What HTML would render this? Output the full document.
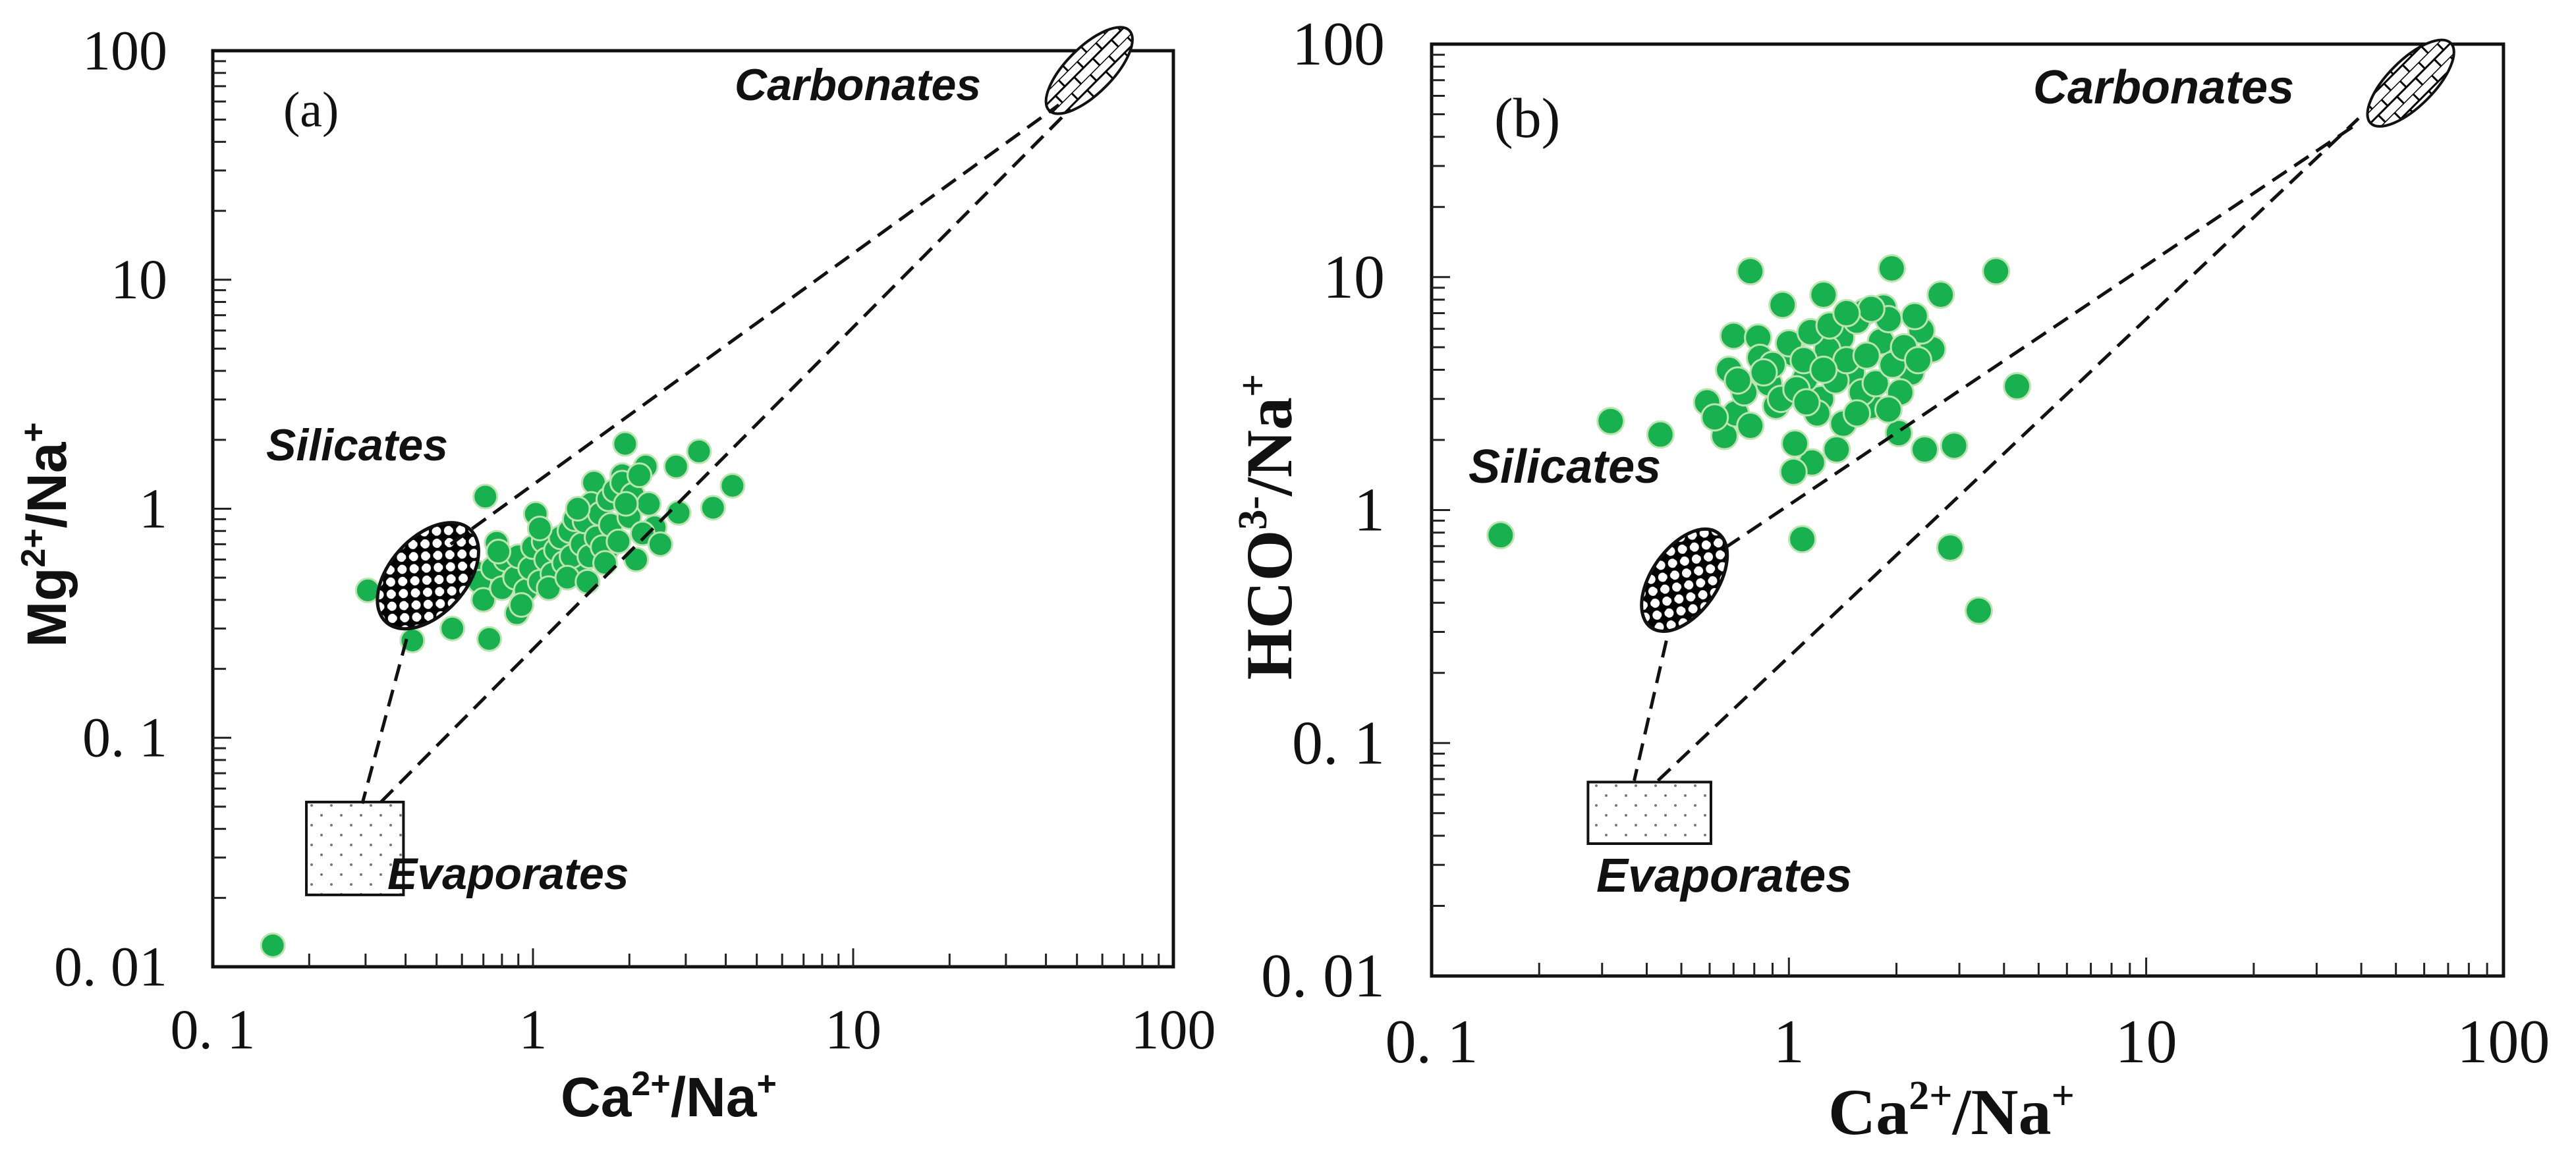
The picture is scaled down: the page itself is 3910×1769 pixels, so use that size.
<!DOCTYPE html>
<html><head><meta charset="utf-8">
<style>
html,body{margin:0;padding:0;background:#fff;}
svg{display:block;}
.serif{font-family:"Liberation Serif","DejaVu Serif",serif;}
.sans{font-family:"Liberation Sans","DejaVu Sans",sans-serif;}
</style></head>
<body>
<svg id="fig" width="3910" height="1769" viewBox="0 0 3910 1769" xmlns="http://www.w3.org/2000/svg">
<defs>
  <pattern id="checker" width="26" height="26" patternUnits="userSpaceOnUse">
    <rect width="26" height="26" fill="#000"/>
    <circle cx="6.5" cy="6.5" r="7" fill="#fff"/>
    <circle cx="19.5" cy="19.5" r="7" fill="#fff"/>
  </pattern>
  <pattern id="brick" width="40" height="28" patternUnits="userSpaceOnUse">
    <rect width="40" height="28" fill="#fff"/>
    <path d="M0 0H40M0 14H40M10 0V14M30 14V28" stroke="#000" stroke-width="3" fill="none"/>
  </pattern>
  <pattern id="dots" width="30" height="30" patternUnits="userSpaceOnUse">
    <rect width="30" height="30" fill="#fff"/>
    <circle cx="8" cy="8" r="2" fill="#777"/>
    <circle cx="23" cy="23" r="2" fill="#777"/>
  </pattern>
</defs>
<g id="panelA"></g>
<g id="panelB"></g>
</svg>
<script>
// ---- Panel (a) data: Ca/Na vs Mg/Na ----
const aCaNa = [0.154,0.305,0.42,0.56,0.71,0.73,0.77,0.89,1.02,0.66,0.85,1.2,1.94,2.25,2.8,3.3,4.2,3.65,2.85,2.4,1.9,1.6,1.55,1.7,1.4,0.68,0.70,0.75,0.80,0.82,0.88,0.90,0.95,0.98,1.00,1.05,1.08,1.10,1.15,1.18,1.22,1.25,1.30,1.32,1.35,1.42,1.45,1.50,1.52,1.58,1.62,1.65,1.72,1.75,1.80,1.85,1.90,2.00,2.05,2.10,2.20,2.30,1.12,0.92,1.28,1.48,1.68,2.15,0.78,1.05,1.38,2.5,1.95];
const aMgNa = [0.0124,0.44,0.266,0.30,1.13,0.27,0.71,0.35,0.95,0.53,0.57,0.71,1.92,1.53,1.53,1.78,1.26,1.01,0.96,0.83,1.4,1.04,1.3,0.66,0.55,0.48,0.40,0.55,0.45,0.60,0.50,0.62,0.44,0.55,0.68,0.48,0.72,0.60,0.52,0.66,0.75,0.58,0.80,0.62,0.90,0.70,0.88,0.62,1.05,0.75,0.95,0.68,1.10,0.85,1.20,0.72,1.30,0.92,1.15,0.60,0.78,1.05,0.45,0.38,0.50,0.48,0.58,1.40,0.65,0.82,1.0,0.70,1.05];
// ---- Panel (b) data: Ca/Na vs HCO3/Na ----
const bCaNa = [0.156,0.317,0.437,0.66,0.78,1.94,3.8,4.35,2.9,2.4,2.03,1.36,1.16,1.03,1.04,1.09,2.83,3.4,0.96,1.25,2.66,2.52,0.70,0.82,0.68,0.83,0.59,0.71,0.92,1.03,1.4,1.63,1.84,1.81,2.2,2.35,1.7,1.42,1.23,1.11,1.28,1.5,0.62,0.75,0.78,0.88,0.9,0.95,1.0,1.05,1.1,1.15,1.2,1.3,1.35,1.45,1.55,1.6,1.65,1.75,1.9,1.95,2.05,2.1,2.25,1.7,1.45,0.85,1.12,1.55,1.9,2.3,1.25,0.72];
const bHco3Na = [0.78,2.41,2.11,2.08,10.6,10.9,10.6,3.4,1.89,1.82,2.14,1.82,1.6,1.46,1.93,0.75,0.69,0.37,7.6,8.4,8.4,4.9,5.6,5.5,4.0,4.5,2.9,2.6,2.8,4.7,5.5,7.1,7.4,5.3,3.9,5.9,2.8,2.35,3.0,3.66,4.9,3.9,2.5,3.2,2.3,3.5,4.2,3.0,5.2,3.3,4.4,5.8,2.6,6.2,3.6,4.4,6.5,3.2,4.6,3.5,6.6,4.2,3.2,5.0,6.8,7.3,7.0,3.9,2.9,2.6,2.7,4.4,4.0,3.6];
const xTickLabels = ["0. 1","1","10","100"];
const yTickLabels = ["0. 01","0. 1","1","10","100"];
// end-member mixing lines [x1,y1,x2,y2] in data units
const aLines = [[0.553,0.70,43.9,58],[0.335,0.0524,46.5,53.8],[0.403,0.27,0.293,0.0516]];
const bLines = [[0.664,0.69,38.2,44.6],[0.43,0.069,39.3,48],[0.454,0.275,0.369,0.069]];
const aEvapBox = [0.196,0.394,0.0206,0.0524];
const bEvapBox = [0.274,0.605,0.037,0.068];
const aSilCenter = [0.47,0.51];
const bSilCenter = [0.51,0.50];
const aCarbCenter = [54.6,82];
const bCarbCenter = [55,68];

const NS = "http://www.w3.org/2000/svg";
function el(tag, attrs, parent, txt){
  const e = document.createElementNS(NS, tag);
  for (const k in attrs) e.setAttribute(k, attrs[k]);
  if (txt !== undefined) e.textContent = txt;
  parent.appendChild(e);
  return e;
}
const L = Math.log10;

function panel(g, cfg){
  const X = v => cfg.x0 + (L(v)+1)*cfg.dx;
  const Y = v => cfg.y1 - (L(v)+2)*cfg.dy;
  const right = cfg.x0 + 3*cfg.dx, top = cfg.y1 - 4*cfg.dy;
  const fr = el("rect",{x:cfg.x0,y:top,width:right-cfg.x0,height:cfg.y1-top,fill:"none",stroke:"#111","stroke-width":5},g);
  
  
  const tg = el("g",{stroke:"#222","stroke-width":3},g);
  
  
  for (let d=-1; d<2; d++) for (let m=1; m<10; m++){
    const v = m*Math.pow(10,d); if (m===1 && d===-1) continue;
    const x = X(v); const len = m===1?28:20;
    el("line",{x1:x,y1:cfg.y1,x2:x,y2:cfg.y1-len},tg);
  }
  for (let d=-2; d<2; d++) for (let m=1; m<10; m++){
    const v = m*Math.pow(10,d); if (m===1 && d===-2) continue;
    const y = Y(v); const len = m===1?28:20;
    el("line",{x1:cfg.x0,y1:y,x2:cfg.x0+len,y2:y},tg);
  }
  xTickLabels.forEach((t,i)=>{
    const tx = el("text",{x:cfg.x0+i*cfg.dx,y:cfg.xLabY,"text-anchor":"middle","font-size":cfg.tickFs,class:"serif",fill:"#111"},g,t);
    
    
  });
  yTickLabels.forEach((t,i)=>{
    const ty = el("text",{x:cfg.yLabX,y:cfg.y1-i*cfg.dy+cfg.tickFs*0.33,"text-anchor":"end","font-size":cfg.tickFs,class:"serif",fill:"#111"},g,t);
    
    
  });
  const eb = cfg.evap;
  const box = el("rect",{x:X(eb[0]),y:Y(eb[3]),width:X(eb[1])-X(eb[0]),height:Y(eb[2])-Y(eb[3]),fill:"url(#dots)",stroke:"#111","stroke-width":4},g);
  
  
  const pg = el("g",{},g);
  
  
  cfg.xs.forEach((v,i)=>{
    const c = el("circle",{cx:X(v),cy:Y(cfg.ys[i]),r:cfg.r,fill:"#17b24f",stroke:"#bfe3b0","stroke-width":3},pg);
    
    
  });
  const sx = X(cfg.sil[0]), sy = Y(cfg.sil[1]);
  const se = el("ellipse",{cx:sx,cy:sy,rx:cfg.silR[0],ry:cfg.silR[1],transform:`rotate(${cfg.silR[2]} ${sx} ${sy})`,fill:"url(#checker)",stroke:"#111","stroke-width":5},g);
  
  
  const cx = X(cfg.carb[0]), cy = Y(cfg.carb[1]);
  const ce = el("ellipse",{cx:cx,cy:cy,rx:86,ry:35,transform:`rotate(-45 ${cx} ${cy})`,fill:"url(#brick)",stroke:"#111","stroke-width":4},g);
  
  
  const lg = el("g",{stroke:"#111","stroke-width":5,"stroke-dasharray":"26 14",fill:"none"},g);
  
  
  cfg.lines.forEach(l=>{
    const ln = el("line",{x1:X(l[0]),y1:Y(l[1]),x2:X(l[2]),y2:Y(l[3])},lg);
    
    
  });
}

const gA = document.getElementById("panelA");
const gB = document.getElementById("panelB");
panel(gA,{x0:323,dx:486,y1:1468,dy:347.75,r:18,xs:aCaNa,ys:aMgNa,lines:aLines,evap:aEvapBox,sil:aSilCenter,silR:[95,58,-48],carb:aCarbCenter,tickFs:86,xLabY:1592,yLabX:254});
panel(gB,{x0:2173,dx:542.3,y1:1482,dy:353.75,r:20,xs:bCaNa,ys:bHco3Na,lines:bLines,evap:bEvapBox,sil:bSilCenter,silR:[88,50,-55],carb:bCarbCenter,tickFs:94,xLabY:1613,yLabX:2102});

function label(g, x, y, fs, cls, weight, style, txt, name, anchor){
  const t = el("text",{x:x,y:y,"font-size":fs,class:cls,"font-weight":weight,"font-style":style,fill:"#111","text-anchor":anchor||"start"},g,txt);
  
  
  return t;
}
label(gA,430,192,76,"serif","normal","normal","(a)","panel-a-label");
label(gA,1115,152,68,"sans","bold","italic","Carbonates","carbonates-label-a");
label(gA,404,699,68,"sans","bold","italic","Silicates","silicates-label-a");
label(gA,588,1350,68,"sans","bold","italic","Evaporates","evaporates-label-a");
label(gB,2268,208,86,"serif","normal","normal","(b)","panel-b-label");
label(gB,3086,157,72,"sans","bold","italic","Carbonates","carbonates-label-b");
label(gB,2229,733,72,"sans","bold","italic","Silicates","silicates-label-b");
label(gB,2423,1354,72,"sans","bold","italic","Evaporates","evaporates-label-b");

function title(g, x, y, fs, cls, parts, name, rot){
  const t = el("text",{x:x,y:y,"font-size":fs,class:cls,"font-weight":"bold",fill:"#111","text-anchor":"middle"},g);
  if (rot) t.setAttribute("transform",`rotate(-90 ${x} ${y})`);
  
  
  parts.forEach(p=>{
    if (p[1]) { el("tspan",{dy:-fs*0.38,"font-size":fs*0.62},t,p[0]); }
    else { el("tspan",{dy:p[2]?fs*0.38:0},t,p[0]); }
  });
}
title(gA,1015,1695,84,"sans",[["Ca"],["2+",1],["/Na",0,1],["+",1]],"x-axis-title-a");
title(gA,100,812,84,"sans",[["Mg"],["2+",1],["/Na",0,1],["+",1]],"y-axis-title-a",true);
title(gB,2962,1722,100,"serif",[["Ca"],["2+",1],["/Na",0,1],["+",1]],"x-axis-title-b");
title(gB,1960,800,100,"serif",[["HCO"],["3-",1],["/Na",0,1],["+",1]],"y-axis-title-b",true);
</script>
</body></html>
